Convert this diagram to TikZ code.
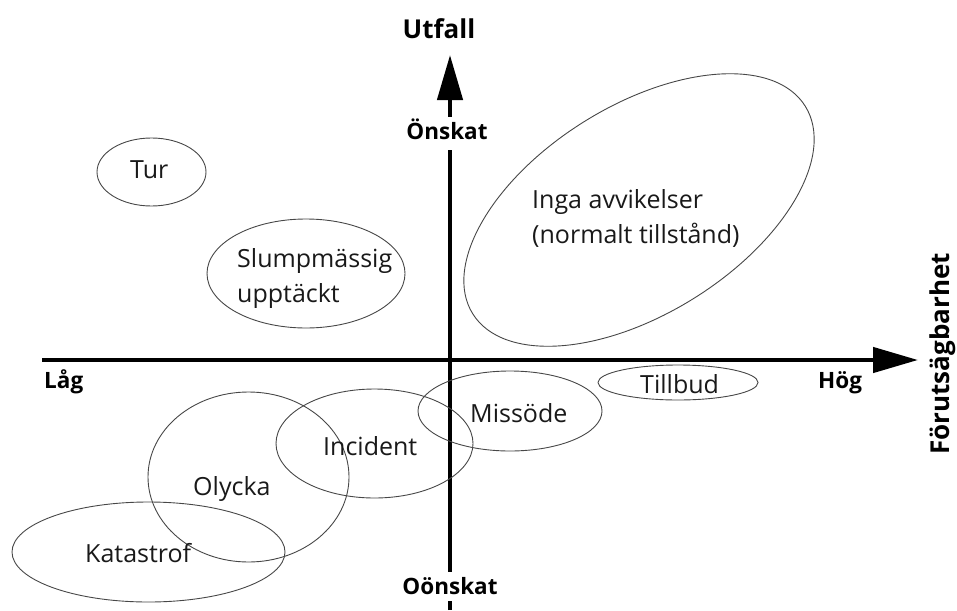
\documentclass[tikz,border=0pt]{standalone}
\usepackage{fontspec}
\setmainfont{Open Sans}
\usetikzlibrary{arrows.meta}
\begin{document}
\begin{tikzpicture}[x=1pt,y=-1pt,
  axis/.style={line width=4.5pt,-{Triangle[length=45pt,width=25pt]}},
  region/.style={draw=black!72,line width=0.9pt},
  lbl/.style={font=\fontsize{25}{35}\selectfont,inner sep=0pt,text=black!90},
  axislbl/.style={font=\fontsize{22.5}{28}\selectfont\bfseries,inner sep=0pt},
  titlelbl/.style={font=\fontsize{26}{30}\selectfont\bfseries,inner sep=0pt},
  gaplbl/.style={axislbl,fill=white,text height=22pt,inner xsep=3pt}]
\useasboundingbox (0,0) rectangle (957,610);

% axes
\coordinate (hstart) at (42,360);
\coordinate (htip) at (918,360);
\coordinate (vstart) at (450,610);
\coordinate (vtip) at (450,55);
\draw[axis] (hstart) -- (htip);
\draw[axis] (vstart) -- (vtip);

% axis labels
\node[titlelbl,anchor=base] (utfall) at (439,39) {Utfall};
\node[gaplbl,text depth=11pt,anchor=base] (onskat) at (447,139) {Önskat};
\node[gaplbl,text depth=7pt,anchor=base] (oonskat) at (450,594) {Oönskat};
\node[axislbl,anchor=base west] (lag) at (44,388) {Låg};
\node[axislbl,anchor=base west] (hog) at (818,388) {Hög};
\node[titlelbl,rotate=90,anchor=base] (forut) at (949,354) {Förutsägbarhet};

% regions
\draw[region] (151.5,172) ellipse [x radius=54.5pt,y radius=34pt];
\draw[region] (306,273.5) ellipse [x radius=99pt,y radius=54.5pt];
\draw[region,rotate around={32:(639,210)}] (639,210) ellipse [x radius=196pt,y radius=104pt];
\draw[region] (678,382.5) ellipse [x radius=80pt,y radius=17.5pt];
\draw[region] (510,411) ellipse [x radius=92pt,y radius=40pt];
\draw[region] (374.5,443.5) ellipse [x radius=98.5pt,y radius=54.5pt];
\draw[region] (248.5,477) ellipse [x radius=100.5pt,y radius=85pt];
\draw[region] (148.5,552) ellipse [x radius=136.5pt,y radius=50pt];

% region labels
\node[lbl,anchor=base west] (tur) at (130,178) {Tur};
\node[lbl,anchor=west,align=left] (slump) at (237,279) {Slumpmässig\\upptäckt};
\node[lbl,anchor=west,align=left] (inga) at (532,218.75) {Inga avvikelser\\(normalt tillstånd)};
\node[lbl,anchor=base west] (tillbud) at (640,393) {Tillbud};
\node[lbl,anchor=base west] (missode) at (470,422) {Missöde};
\node[lbl,anchor=base west] (incident) at (323,455) {Incident};
\node[lbl,anchor=base west] (olycka) at (193,495) {Olycka};
\node[lbl,anchor=base west] (katastrof) at (85,562) {Katastrof};
\end{tikzpicture}
\end{document}
